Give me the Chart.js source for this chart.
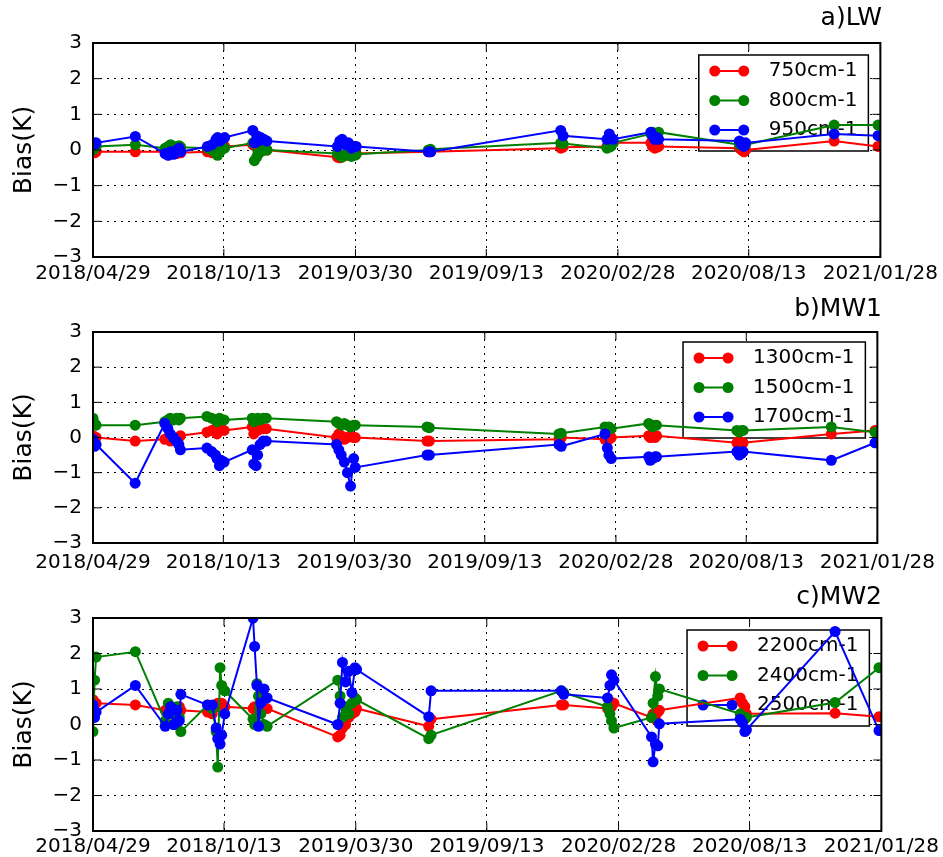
<!DOCTYPE html>
<html>
<head>
<meta charset="utf-8">
<script src="https://cdn.jsdelivr.net/npm/chart.js@4.4.1/dist/chart.umd.min.js"></script>
<style>
body{margin:0;background:#fff;}
.panel{position:absolute;left:0;width:943px;}
</style>
</head>
<body>
<div class="panel" style="top:0;height:288px"><canvas id="lw"></canvas></div>
<div class="panel" style="top:288px;height:285px"><canvas id="mw1"></canvas></div>
<div class="panel" style="top:573px;height:284px"><canvas id="mw2"></canvas></div>
<script>
// observation dates, same for all three bands
const obsDates = [
'2018/04/29','2018/05/01','2018/05/03','2018/06/22',
'2018/07/30','2018/08/03','2018/08/06','2018/08/10','2018/08/14','2018/08/17','2018/08/19',
'2018/09/22','2018/09/28','2018/10/03','2018/10/05','2018/10/08','2018/10/10','2018/10/14',
'2018/11/19','2018/11/21','2018/11/24','2018/11/26','2018/11/29','2018/12/03','2018/12/07',
'2019/03/07','2019/03/10','2019/03/13','2019/03/17','2019/03/21','2019/03/25','2019/03/29','2019/03/31',
'2019/07/01','2019/07/04','2019/12/17','2019/12/20',
'2020/02/14','2020/02/17','2020/02/19','2020/02/22',
'2020/04/10','2020/04/12','2020/04/15','2020/04/18','2020/04/20',
'2020/08/01','2020/08/04','2020/08/07','2020/08/09',
'2020/11/30','2021/01/25'
]

const tickLabels = ['2018/04/29','2018/10/13','2019/03/30','2019/09/13','2020/02/28','2020/08/13','2021/01/28']
const yTicks = [-3,-2,-1,0,1,2,3]

// a) LW
const lw750 = [-0.05,-0.08,-0.05, -0.05,
 -0.05,0.0,-0.08,-0.05,-0.1,-0.05,-0.08,
 -0.05,-0.08,-0.05,0.05,0.08,0.1,0.1,
 0.15,0.12,0.1,0.08,0.05,0.02,0.0,
 -0.2,-0.22,-0.18,-0.15,-0.12,-0.1,-0.12,-0.1,
 -0.05,-0.05, 0.05,0.08,
 0.1,0.15,0.12,0.2,
 0.2,0.1,0.05,0.08,0.1,
 0.05,0.0,-0.05,0.0,
 0.25, 0.1]
const lw800 = [0.0,0.05,0.1, 0.15,
 0.05,0.1,0.15,0.05,0.1,0.12,0.08,
 0.05,0.0,-0.1,-0.15,-0.05,0.05,0.05,
 0.2,-0.3,-0.2,-0.1,-0.05,0.0,0.0,
 -0.1,-0.15,-0.2,-0.12,-0.15,-0.18,-0.15,-0.12,
 0.0,0.02, 0.2,0.18,
 0.05,0.08,0.1,0.2,
 0.45,0.5,0.4,0.45,0.5,
 0.15,0.2,0.12,0.15,
 0.7, 0.7]
const lw950 = [0.2,0.15,0.2, 0.38,
 -0.1,-0.15,-0.05,-0.12,0.0,0.05,-0.05,
 0.1,0.15,0.3,0.35,0.25,0.3,0.35,
 0.55,0.2,0.4,0.25,0.35,0.3,0.25,
 0.1,0.25,0.3,0.15,0.2,0.05,0.1,0.1,
 -0.05,-0.05, 0.55,0.4,
 0.3,0.45,0.35,0.3,
 0.5,0.4,0.3,0.35,0.3,
 0.25,0.15,0.1,0.2,
 0.45, 0.4]

// b) MW1
const mw1300 = [0.05,0.0,0.0, -0.1,
 -0.05,0.0,-0.1,-0.05,-0.1,0.0,0.05,
 0.15,0.2,0.25,0.1,0.2,0.25,0.2,
 0.3,0.1,0.25,0.2,0.3,0.25,0.25,
 0.0,0.1,0.05,-0.05,0.0,0.05,0.0,0.0,
 -0.1,-0.1, -0.05,0.0,
 -0.05,0.0,-0.05,0.0,
 0.05,0.0,0.05,0.0,0.05,
 -0.15,-0.1,-0.2,-0.15,
 0.1, 0.2]
const mw1500 = [0.55,0.4,0.35, 0.35,
 0.45,0.5,0.55,0.5,0.55,0.5,0.55,
 0.6,0.55,0.5,0.45,0.55,0.5,0.5,
 0.55,0.45,0.5,0.55,0.5,0.55,0.55,
 0.45,0.4,0.35,0.4,0.35,0.3,0.35,0.35,
 0.3,0.28, 0.1,0.12,
 0.3,0.25,0.3,0.25,
 0.4,0.35,0.3,0.35,0.35,
 0.2,0.15,0.2,0.2,
 0.3, 0.15]
const mw1700 = [-0.05,-0.25,-0.2, -1.3,
 0.4,0.25,0.1,0.0,-0.1,-0.2,-0.35,
 -0.3,-0.4,-0.5,-0.6,-0.8,-0.65,-0.7,
 -0.35,-0.75,-0.8,-0.5,-0.2,-0.1,-0.1,
 -0.2,-0.35,-0.5,-0.7,-1.0,-1.38,-0.6,-0.85,
 -0.5,-0.5, -0.2,-0.25,
 0.1,-0.3,-0.5,-0.6,
 -0.55,-0.65,-0.6,-0.55,-0.55,
 -0.4,-0.5,-0.45,-0.4,
 -0.65, -0.15]

// c) MW2
const mw2200 = [0.7,0.6,0.6, 0.55,
 0.4,0.45,0.5,0.3,0.45,0.5,0.4,
 0.35,0.3,0.5,0.6,0.55,0.6,0.5,
 0.45,0.5,0.4,0.45,0.5,0.45,0.45,
 -0.35,-0.3,-0.1,0.0,0.2,0.3,0.35,0.45,
 -0.05,0.15, 0.55,0.55,
 0.45,0.65,0.5,0.6,
 0.2,0.3,0.15,0.35,0.4,
 0.75,0.6,0.5,0.3,
 0.32, 0.22]
const mw2400 = [-0.2,1.25,1.9, 2.05,
 0.1,0.6,0.3,0.0,0.5,0.2,-0.2,
 0.55,0.45,-0.2,-1.2,1.6,1.1,0.95,
 0.15,0.0,1.15,0.8,0.3,0.0,-0.05,
 1.25,0.8,0.2,0.5,0.3,0.6,0.75,0.7,
 -0.4,-0.3, 0.95,0.9,
 0.5,0.3,0.1,-0.1,
 0.2,0.6,1.35,0.8,1.0,
 0.3,0.2,0.15,0.2,
 0.62, 1.6]
const mw2500 = [0.55,0.2,0.35, 1.1,
 -0.05,0.3,0.5,0.0,0.4,0.1,0.85,
 0.55,0.55,-0.1,-0.4,-0.55,-0.3,0.3,
 3.0,2.2,1.1,-0.05,0.6,1.0,0.75,
 0.0,0.6,1.75,1.2,1.5,0.9,1.6,1.55,
 0.22,0.95, 0.95,0.85,
 0.75,1.1,1.4,1.25,
 -0.35,-1.05,-0.55,-0.6,0.02,
 0.15,0.05,-0.2,-0.15,
 2.62, -0.17]

const colors = ['#ff0000','#008000','#0000ff']

Chart.defaults.font.family = "'DejaVu Sans', sans-serif"
Chart.defaults.color = '#000'

// days since the first tick date
const t0 = Date.UTC(2018,3,29)
function dayNo(s){
  const p = s.split('/').map(Number)
  return Math.round((Date.UTC(p[0],p[1]-1,p[2]) - t0)/86400000)
}
const tickDays = tickLabels.map(dayNo)

// legend box inside the plot, drawn under the lines
const bandLegend = {
  id:'bandLegend',
  beforeDatasetsDraw(chart, args, opts){
    const ctx = chart.ctx, a = chart.chartArea
    const sets = chart.data.datasets
    ctx.save()
    ctx.font = "20px 'DejaVu Sans'"
    let tw = 0
    sets.forEach(d=>{ tw = Math.max(tw, ctx.measureText(d.label).width) })
    const w = 70 + tw + 11, h = 96
    const x0 = a.right - 12 - w, y0 = a.top + opts.inset
    ctx.fillStyle = '#fff'
    ctx.fillRect(x0,y0,w,h)
    ctx.strokeStyle = '#000'
    ctx.lineWidth = 1.5
    ctx.strokeRect(x0,y0,w,h)
    sets.forEach((d,i)=>{
      const y = y0 + 16 + i*29.5
      ctx.strokeStyle = d.borderColor
      ctx.lineWidth = 2
      ctx.beginPath(); ctx.moveTo(x0+16,y); ctx.lineTo(x0+45,y); ctx.stroke()
      ctx.fillStyle = d.borderColor
      ;[16,45].forEach(dx=>{ ctx.beginPath(); ctx.arc(x0+dx,y,5.5,0,Math.PI*2); ctx.fill() })
      ctx.fillStyle = '#000'
      ctx.textBaseline = 'middle'
      ctx.fillText(d.label, x0+70, y)
    })
    ctx.restore()
  }
}

// axes frame with inward tick marks on all four sides
const frameTicks = {
  id:'frameTicks',
  afterDatasetsDraw(chart){
    const {ctx, chartArea:a, scales:{x,y}} = chart
    ctx.save()
    ctx.strokeStyle = '#000'
    ctx.lineWidth = 1
    ctx.beginPath()
    x.ticks.forEach(t=>{
      const px = x.getPixelForValue(t.value)
      ctx.moveTo(px,a.top); ctx.lineTo(px,a.top+8)
      ctx.moveTo(px,a.bottom); ctx.lineTo(px,a.bottom-8)
    })
    y.ticks.forEach(t=>{
      const py = y.getPixelForValue(t.value)
      ctx.moveTo(a.left,py); ctx.lineTo(a.left+8,py)
      ctx.moveTo(a.right,py); ctx.lineTo(a.right-8,py)
    })
    ctx.stroke()
    ctx.lineWidth = 2
    ctx.strokeRect(a.left,a.top,a.right-a.left,a.bottom-a.top)
    ctx.restore()
  }
}

function makeChart(id, title, names, series, lay){
  return new Chart(document.getElementById(id),{
    type:'line',
    data:{
      datasets: series.map((s,i)=>({
        label:names[i],
        data: obsDates.map((d,k)=>({x:dayNo(d), y:s[k]})),
        borderColor:colors[i],
        backgroundColor:colors[i],
        borderWidth:2,
        pointRadius:5.5,
        pointHoverRadius:5.5,
        pointBorderWidth:0,
        tension:0,
        // later series on top
        order:series.length - i
      }))
    },
    options:{
      responsive:true,
      maintainAspectRatio:false,
      animation:false,
      events:[],
      layout:{padding:{left:0,right:61,top:0,bottom:0}},
      plugins:{
        legend:{display:false},
        tooltip:{enabled:false},
        title:{display:true, text:title, align:'end', color:'#000',
          font:{size:25, weight:'normal'}, padding:lay.titlePad},
        bandLegend:{inset:lay.legendTop}
      },
      scales:{
        x:{
          type:'linear',
          min:tickDays[0], max:tickDays[tickDays.length-1],
          afterBuildTicks: s=>{ s.ticks = tickDays.map(v=>({value:v})) },
          afterFit: s=>{ s.height = lay.axisH },
          ticks:{callback:(v,i)=>tickLabels[i], maxRotation:0, autoSkip:false,
            padding:lay.tickPad, color:'#000', font:{size:20}},
          grid:{color:'#000', lineWidth:1, drawTicks:false},
          border:{display:false, dash:[2,5]}
        },
        y:{
          min:-3, max:3,
          afterBuildTicks: s=>{ s.ticks = yTicks.map(v=>({value:v})) },
          afterFit: s=>{ s.width = 93 },
          ticks:{callback:v=> v<0 ? '\u2212'+Math.abs(v) : String(v),
            padding:11, color:'#000', font:{size:20}},
          grid:{color:'#000', lineWidth:1, drawTicks:false},
          border:{display:false, dash:[2,5]},
          title:{display:true, text:'Bias(K)', color:'#000',
            font:{size:25}, padding:{top:9,bottom:0}}
        }
      }
    },
    plugins:[bandLegend, frameTicks]
  })
}

makeChart('lw','a)LW',['750cm-1','800cm-1','950cm-1'],[lw750,lw800,lw950],
  {titlePad:{top:3,bottom:10}, axisH:31, tickPad:5, legendTop:12})
makeChart('mw1','b)MW1',['1300cm-1','1500cm-1','1700cm-1'],[mw1300,mw1500,mw1700],
  {titlePad:{top:6,bottom:8}, axisH:30, tickPad:8, legendTop:10})
makeChart('mw2','c)MW2',['2200cm-1','2400cm-1','2500cm-1'],[mw2200,mw2400,mw2500],
  {titlePad:{top:9,bottom:6}, axisH:26, tickPad:4, legendTop:12})
</script>
</body>
</html>
